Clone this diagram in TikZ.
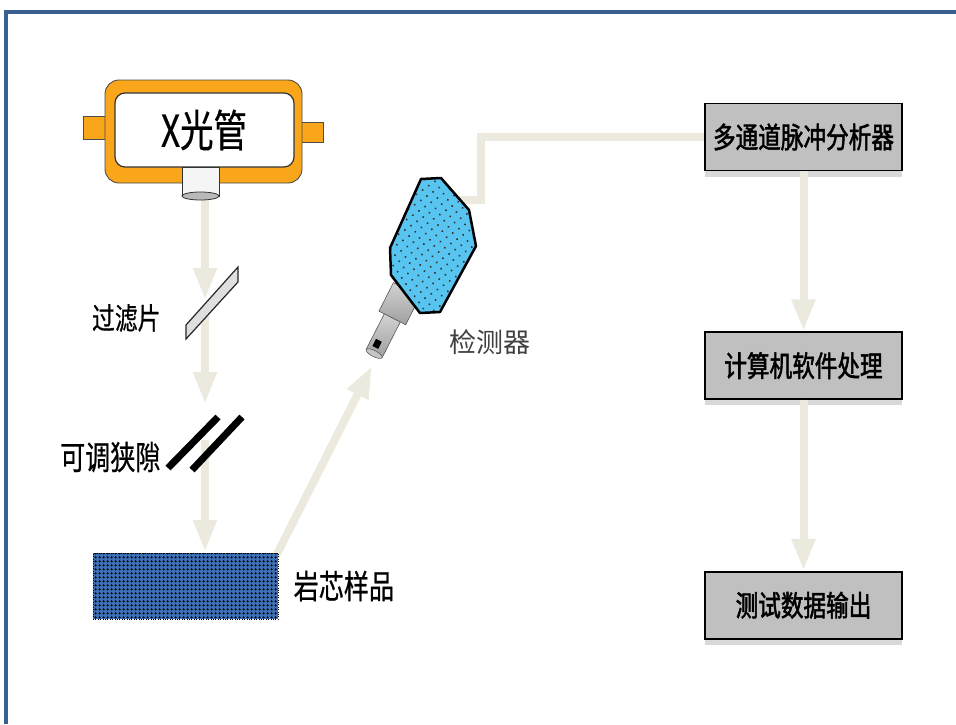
\documentclass[tikz,border=0pt]{standalone}
\usepackage{fontspec}
\setmainfont{Noto Sans CJK SC}
\newfontfamily\cjk[FakeStretch=0.76,FakeBold=0.6]{Noto Sans CJK SC}
\newfontfamily\cjkbold[FakeStretch=0.78,FakeBold=1.8]{Noto Sans CJK SC}
\newfontfamily\cjkplain{Noto Sans CJK SC}
\usetikzlibrary{positioning, arrows.meta, shadows, patterns.meta}

\definecolor{frameblue}{RGB}{58,96,145}
\definecolor{beamcol}{RGB}{236,234,222}
\definecolor{tubeorange}{RGB}{249,166,26}
\definecolor{samplecol}{RGB}{62,112,182}
\definecolor{headblue}{RGB}{88,196,240}
\definecolor{panelgray}{RGB}{192,192,192}

\tikzstyle{beam} = [line width=8pt, draw=beamcol, -{Triangle[length=32pt, width=22pt]}]
\tikzstyle{beamline} = [line width=8pt, draw=beamcol]
\tikzstyle{panel} = [rectangle, minimum width=197pt, minimum height=67pt, text centered, draw=black, line width=1.6pt, fill=panelgray, drop shadow={shadow xshift=0pt, shadow yshift=-6pt, opacity=0.3, fill=gray}, font=\cjkbold\fontsize{29}{31}\selectfont]
\tikzstyle{textlabel} = [font=\cjk\fontsize{33}{35}\selectfont]
\tikzstyle{tubepart} = [fill=tubeorange, draw=black!70, line width=0.9pt]
\tikzstyle{handlepart} = [shading=axis, top color=gray!35, bottom color=gray!75, middle color=gray!55, draw=gray!70!black, line width=0.6pt]

\begin{document}
\begin{tikzpicture}[x=1pt, y=-1pt]
  \useasboundingbox (0,0) rectangle (956,724);

  % frame
  \draw[frameblue, line width=4pt] (6,724) -- (6,12) -- (958,12);

  % points on the beam path
  \coordinate (tube_out) at (205,196);
  \coordinate (filter_in) at (205,300);
  \coordinate (filter_out) at (205,312);
  \coordinate (slit_in) at (205,404);
  \coordinate (slit_out) at (205,440);
  \coordinate (sample_in) at (205,552);
  \coordinate (sample_out) at (276,556);
  \coordinate (det_in) at (372,366);
  \coordinate (det_port) at (458,200);

  \node (mca) [panel] at (803.5,137) {多通道脉冲分析器};
  \node (computer) [panel, below=160pt of mca] {计算机软件处理};
  \node (output) [panel, below=171pt of computer] {测试数据输出};

  % beams
  \draw[beam] (tube_out) -- (filter_in);
  \draw[beam] (filter_out) -- (slit_in);
  \draw[beam] (slit_out) -- (sample_in);
  \draw[beam] (sample_out) -- (det_in);
  \draw[beamline] (det_port) -- ++(23,0) |- (mca.west);
  \draw[beam] (mca.south) -- (computer.north);
  \draw[beam] (computer.south) -- (output.north);

  % X-ray tube
  \draw[tubepart] (83,116) rectangle (108,139);
  \draw[tubepart] (299,122) rectangle (323,142);
  \draw[tubepart, rounded corners=14pt] (105,80) rectangle (302,183);
  \draw[fill=white, draw=black!80, line width=1.2pt, rounded corners=10pt] (115,93) rectangle (294,167);
  \draw[fill=gray!8, draw=black!80, line width=1pt] (182,167) rectangle (219,196);
  \draw[fill=gray!55, draw=black!80, line width=0.8pt] (200.5,196) ellipse [x radius=18.5, y radius=4];
  \node (tube_text) [font=\cjk\fontsize{44}{46}\selectfont] at (204,130) {X光管};

  % filter
  \draw[fill=gray!25, draw=black!85, line width=1.2pt] (186,325) -- (238,267) -- (238,282) -- (186,339) -- cycle;
  \node (filter_text) [textlabel, anchor=east, font=\cjk\fontsize{30}{32}\selectfont] at (164,318) {过滤片};

  % slit
  \draw[line width=7pt] (168,468) -- (218,417);
  \draw[line width=7pt] (192,470) -- (242,417);
  \node (slit_text) [textlabel, anchor=east] at (164,457) {可调狭隙};

  % sample
  \node (sample) [rectangle, minimum width=185pt, minimum height=66pt, preaction={fill=samplecol}, pattern={Dots[radius=1.45pt, distance=4pt]}, pattern color=black, draw=black, dotted] at (185.5,586) {};
  \node (sample_text) [textlabel, right=12pt of sample] {岩芯样品};

  % detector handle
  \begin{scope}[shift={(405,293)}, rotate=243]
    \draw[handlepart] (-4,-15) rectangle (28,15);
    \draw[handlepart] (28,-9) rectangle (68,9);
    \draw[fill=gray!45, draw=gray!70!black, line width=0.6pt] (68,0) ellipse [x radius=3, y radius=9];
    \fill[black] (54,-1.5) rectangle (62,5);
  \end{scope}

  % detector head
  \draw[preaction={fill=headblue}, pattern={Dots[radius=1.1pt, distance=7.5pt, angle=35]}, pattern color=black!80, draw=black, line width=2.5pt, line join=round]
    (421,179) -- (441,178) -- (469,210) -- (476,246) -- (440,312) -- (420,313) -- (391,275) -- (390,248) -- cycle;
  \node (det_text) [font=\cjkplain\fontsize{27}{29}\selectfont, text=black!75, anchor=west] at (446,342) {检测器};
\end{tikzpicture}
\end{document}
